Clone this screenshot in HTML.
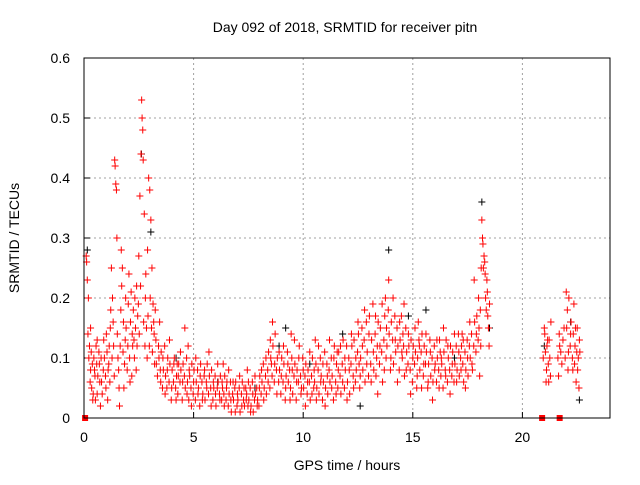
<!DOCTYPE html>
<html><head><meta charset="utf-8"><style>
body{margin:0;background:#fff;font-family:"Liberation Sans",sans-serif}
svg text{font-family:"Liberation Sans",sans-serif;font-size:14px;fill:#000}
</style></head><body>
<svg id="c" width="640" height="480">
<text x="345" y="32" text-anchor="middle">Day 092 of 2018, SRMTID for receiver pitn</text>
<text x="347" y="470" text-anchor="middle">GPS time / hours</text>
<text transform="translate(19,238) rotate(-90)" text-anchor="middle">SRMTID / TECUs</text>
<g id="grid"></g>
<g id="ticks"></g>
<g id="black"></g>
<g id="red"></g>
<rect x="84" y="58" width="526" height="360" fill="none" stroke="#000" stroke-width="1"/>
</svg>
<script>
const xTicks=[0,5,10,15,20];
const yTicks=[0,0.1,0.2,0.3,0.4,0.5,0.6];
const yLabels=["0","0.1","0.2","0.3","0.4","0.5","0.6"];
const zeroPoints=[0.05,20.9,21.7];
const redPts="0.1,0.27 0.12,0.26 0.15,0.23 0.2,0.2 0.18,0.14 0.25,0.12 0.3,0.08 0.35,0.05 0.4,0.03 0.45,0.1 0.5,0.07 0.55,0.12 0.6,0.04 0.7,0.09 0.75,0.02 0.8,0.06 0.9,0.13 1.0,0.05 1.05,0.11 1.1,0.08 1.2,0.15 1.25,0.25 1.3,0.2 1.35,0.12 1.4,0.43 1.42,0.42 1.45,0.39 1.48,0.38 1.5,0.3 1.55,0.1 1.6,0.05 1.62,0.02 1.7,0.28 1.75,0.25 1.8,0.16 1.85,0.09 1.9,0.2 2.0,0.12 2.05,0.24 2.1,0.06 2.2,0.14 2.25,0.18 2.3,0.1 2.4,0.22 2.45,0.17 2.5,0.27 2.55,0.37 2.6,0.44 2.63,0.53 2.65,0.5 2.68,0.48 2.7,0.43 2.75,0.34 2.8,0.2 2.85,0.15 2.9,0.28 2.95,0.4 3.0,0.38 3.05,0.33 3.1,0.25 3.15,0.19 3.2,0.14 3.25,0.18 3.3,0.09 3.4,0.12 3.5,0.06 3.6,0.1 3.7,0.04 3.8,0.08 3.9,0.13 4.0,0.05 4.1,0.09 4.2,0.03 4.3,0.07 4.4,0.11 4.5,0.06 4.6,0.15 4.7,0.04 4.8,0.08 4.9,0.02 5.0,0.06 5.1,0.1 5.2,0.04 5.3,0.07 5.4,0.03 5.5,0.08 5.6,0.05 5.7,0.11 5.8,0.02 5.9,0.06 6.0,0.04 6.1,0.09 6.2,0.03 6.3,0.06 6.4,0.02 6.5,0.05 6.6,0.08 6.7,0.03 6.8,0.06 6.9,0.01 7.0,0.04 7.1,0.07 7.2,0.02 7.3,0.05 7.4,0.03 7.5,0.06 7.6,0.01 7.7,0.04 7.8,0.07 7.9,0.02 8.0,0.05 8.1,0.08 8.2,0.03 8.3,0.1 8.4,0.06 8.5,0.13 8.6,0.16 8.7,0.09 8.8,0.04 8.9,0.11 9.0,0.07 9.1,0.12 9.2,0.05 9.3,0.09 9.4,0.03 9.5,0.08 9.6,0.13 9.7,0.06 9.8,0.1 9.9,0.04 10.0,0.08 10.1,0.02 10.2,0.06 10.3,0.11 10.4,0.04 10.5,0.08 10.6,0.03 10.7,0.12 10.8,0.06 10.9,0.09 11.0,0.02 11.1,0.07 11.2,0.13 11.3,0.05 11.4,0.1 11.5,0.04 11.6,0.08 11.7,0.12 11.8,0.06 11.9,0.1 12.0,0.03 12.1,0.08 12.2,0.14 12.3,0.05 12.4,0.1 12.5,0.16 12.6,0.07 12.7,0.12 12.8,0.18 12.9,0.09 13.0,0.14 13.1,0.06 13.2,0.11 13.3,0.17 13.4,0.04 13.5,0.12 13.6,0.19 13.7,0.08 13.8,0.15 13.9,0.23 14.0,0.1 14.1,0.2 14.2,0.13 14.3,0.06 14.4,0.16 14.5,0.11 14.6,0.19 14.7,0.08 14.8,0.14 14.9,0.04 15.0,0.1 15.1,0.15 15.2,0.07 15.3,0.12 15.4,0.05 15.5,0.09 15.6,0.14 15.7,0.06 15.8,0.11 15.9,0.03 16.0,0.08 16.1,0.13 16.2,0.05 16.3,0.1 16.4,0.15 16.5,0.07 16.6,0.12 16.7,0.04 16.8,0.09 16.9,0.14 17.0,0.06 17.1,0.11 17.2,0.08 17.3,0.13 17.4,0.05 17.5,0.1 17.6,0.16 17.7,0.09 17.8,0.23 17.9,0.14 18.0,0.2 18.1,0.12 18.15,0.33 18.2,0.29 18.25,0.27 18.3,0.24 18.35,0.18 18.4,0.21 18.45,0.15 18.5,0.19 21.0,0.15 21.05,0.11 21.1,0.08 21.15,0.13 21.2,0.06 21.25,0.1 21.3,0.16 21.65,0.07 21.7,0.12 21.8,0.09 21.9,0.15 22.0,0.21 22.05,0.18 22.1,0.11 22.2,0.14 22.3,0.08 22.35,0.19 22.4,0.12 22.45,0.06 22.5,0.15 22.55,0.1 22.6,0.13 0.3,0.15 0.6,0.13 1.15,0.12 3.45,0.16 4.25,0.09 4.75,0.12 6.35,0.09 7.45,0.08 8.55,0.09 9.45,0.14 10.55,0.13 11.55,0.11 12.55,0.09 13.35,0.1 13.75,0.2 14.55,0.14 15.25,0.16 16.25,0.11 17.25,0.14 18.05,0.07";
const redPts2="0.22,0.1 0.28,0.06 0.33,0.11 0.38,0.09 0.42,0.04 0.48,0.08 0.52,0.03 0.58,0.09 0.63,0.07 0.68,0.11 0.72,0.06 0.78,0.1 0.83,0.04 0.88,0.08 0.93,0.1 0.98,0.07 1.02,0.14 1.08,0.03 1.13,0.09 1.18,0.06 1.22,0.18 1.28,0.1 1.33,0.16 1.38,0.07 1.52,0.14 1.58,0.08 1.65,0.12 1.68,0.18 1.72,0.22 1.78,0.11 1.82,0.05 1.88,0.13 1.92,0.15 1.97,0.08 2.02,0.19 2.08,0.1 2.12,0.16 2.15,0.21 2.18,0.07 2.22,0.12 2.28,0.13 2.32,0.2 2.35,0.15 2.38,0.08 2.42,0.12 2.48,0.19 2.52,0.14 2.58,0.22 2.72,0.16 2.78,0.12 2.82,0.24 2.88,0.1 2.92,0.17 2.98,0.12 3.02,0.2 3.08,0.15 3.12,0.11 3.18,0.16 3.22,0.09 3.28,0.13 3.35,0.07 3.42,0.1 3.48,0.08 3.52,0.11 3.58,0.05 3.62,0.08 3.68,0.12 3.72,0.07 3.78,0.05 3.82,0.1 3.88,0.06 3.92,0.09 3.98,0.03 4.02,0.08 4.08,0.06 4.12,0.1 4.18,0.05 4.22,0.07 4.28,0.04 4.32,0.09 4.38,0.06 4.42,0.08 4.48,0.03 4.52,0.09 4.58,0.07 4.62,0.05 4.68,0.1 4.72,0.06 4.78,0.03 4.82,0.07 4.88,0.05 4.92,0.09 4.98,0.04 5.02,0.08 5.08,0.03 5.12,0.06 5.18,0.08 5.22,0.05 5.28,0.02 5.32,0.09 5.38,0.06 5.42,0.04 5.48,0.07 5.52,0.03 5.58,0.06 5.62,0.09 5.68,0.04 5.72,0.07 5.78,0.05 5.82,0.08 5.88,0.03 5.92,0.05 5.98,0.07 6.02,0.02 6.08,0.05 6.12,0.06 6.18,0.04 6.22,0.07 6.28,0.03 6.32,0.05 6.38,0.04 6.42,0.07 6.48,0.03 6.52,0.06 6.58,0.02 6.62,0.04 6.68,0.06 6.72,0.01 6.78,0.04 6.82,0.03 6.88,0.05 6.92,0.06 6.98,0.02 7.02,0.03 7.08,0.05 7.12,0.01 7.18,0.04 7.22,0.06 7.28,0.03 7.32,0.02 7.38,0.05 7.42,0.04 7.48,0.02 7.52,0.03 7.58,0.05 7.62,0.02 7.68,0.06 7.72,0.01 7.78,0.03 7.82,0.04 7.88,0.05 7.92,0.03 7.98,0.02 8.02,0.07 8.08,0.04 8.12,0.06 8.18,0.09 8.22,0.05 8.28,0.07 8.32,0.04 8.38,0.08 8.42,0.11 8.48,0.05 8.52,0.1 8.58,0.07 8.62,0.12 8.68,0.06 8.72,0.14 8.78,0.08 8.82,0.1 8.88,0.06 8.92,0.08 8.98,0.04 9.02,0.1 9.08,0.06 9.12,0.09 9.18,0.03 9.22,0.07 9.28,0.11 9.32,0.06 9.38,0.08 9.42,0.05 9.48,0.1 9.52,0.04 9.58,0.07 9.62,0.09 9.68,0.03 9.72,0.08 9.78,0.06 9.82,0.12 9.88,0.07 9.92,0.05 9.98,0.1 10.02,0.05 10.08,0.07 10.12,0.09 10.18,0.04 10.22,0.08 10.28,0.06 10.32,0.03 10.38,0.07 10.42,0.1 10.48,0.05 10.52,0.06 10.58,0.09 10.62,0.05 10.68,0.08 10.72,0.04 10.78,0.1 10.82,0.07 10.88,0.03 10.92,0.06 10.98,0.11 11.02,0.05 11.08,0.09 11.12,0.04 11.18,0.08 11.22,0.06 11.28,0.1 11.32,0.07 11.38,0.03 11.42,0.12 11.48,0.06 11.52,0.09 11.58,0.05 11.62,0.11 11.68,0.07 11.72,0.04 11.78,0.09 11.82,0.13 11.88,0.05 11.92,0.08 11.98,0.12 12.02,0.06 12.08,0.1 12.12,0.04 12.18,0.09 12.22,0.12 12.28,0.07 12.32,0.13 12.38,0.06 12.42,0.08 12.48,0.11 12.52,0.14 12.58,0.05 12.62,0.1 12.68,0.15 12.72,0.08 12.78,0.13 12.82,0.06 12.88,0.16 12.92,0.11 12.98,0.07 13.02,0.17 13.08,0.09 13.12,0.13 13.18,0.19 13.22,0.08 13.28,0.14 13.32,0.07 13.38,0.12 13.42,0.16 13.48,0.09 13.52,0.15 13.58,0.11 13.62,0.06 13.68,0.13 13.72,0.17 13.78,0.1 13.82,0.12 13.88,0.18 13.92,0.14 13.98,0.08 14.02,0.16 14.08,0.13 14.12,0.09 14.18,0.17 14.22,0.11 14.28,0.15 14.32,0.12 14.38,0.08 14.42,0.13 14.48,0.17 14.52,0.1 14.58,0.12 14.62,0.07 14.68,0.15 14.72,0.11 14.78,0.09 14.82,0.12 14.88,0.08 14.92,0.13 14.98,0.06 15.02,0.12 15.08,0.09 15.12,0.11 15.18,0.05 15.22,0.1 15.28,0.13 15.32,0.08 15.38,0.11 15.42,0.14 15.48,0.07 15.52,0.12 15.58,0.09 15.62,0.11 15.68,0.05 15.72,0.09 15.78,0.13 15.82,0.07 15.88,0.1 15.92,0.06 15.98,0.12 16.02,0.09 16.08,0.06 16.12,0.1 16.18,0.08 16.22,0.13 16.28,0.07 16.32,0.09 16.38,0.05 16.42,0.11 16.48,0.08 16.52,0.13 16.58,0.06 16.62,0.1 16.68,0.08 16.72,0.12 16.78,0.07 16.82,0.11 16.88,0.06 16.92,0.09 16.98,0.12 17.02,0.08 17.08,0.14 17.12,0.07 17.18,0.1 17.22,0.12 17.28,0.09 17.32,0.06 17.38,0.11 17.42,0.08 17.48,0.13 17.52,0.07 17.58,0.12 17.62,0.1 17.68,0.14 17.72,0.08 17.78,0.12 17.82,0.16 17.88,0.11 17.92,0.17 17.98,0.13 18.02,0.15 18.08,0.18 18.12,0.25 18.18,0.3 18.22,0.25 18.28,0.26 18.32,0.2 18.38,0.23 18.42,0.17 18.48,0.12 20.95,0.1 21.02,0.14 21.08,0.06 21.12,0.12 21.18,0.09 21.22,0.13 21.28,0.07 21.62,0.1 21.68,0.14 21.75,0.11 21.85,0.13 21.95,0.1 22.02,0.15 22.08,0.08 22.12,0.2 22.18,0.12 22.22,0.16 22.28,0.1 22.32,0.14 22.38,0.09 22.42,0.15 22.48,0.11 22.52,0.08 22.58,0.05 22.62,0.11";
const blackPts="0.15,0.28 2.62,0.44 3.05,0.31 4.2,0.1 6.1,0.06 7.8,0.05 8.9,0.12 10.3,0.09 11.8,0.14 13.9,0.28 14.8,0.17 15.6,0.18 16.9,0.1 18.15,0.36 18.5,0.15 21.0,0.12 22.2,0.16 22.6,0.03 12.6,0.02 9.2,0.15";
const parse=s=>s.split(" ").map(t=>t.split(",").map(Number));
const red=parse(redPts).concat(parse(redPts2));
const black=parse(blackPts);
const X=h=>84+h*21.92, Y=v=>418-v*600;
const NS="http://www.w3.org/2000/svg";
function mk(t,a,p){const e=document.createElementNS(NS,t);for(const k in a)e.setAttribute(k,a[k]);p.appendChild(e);return e;}
const g=document.getElementById('grid'),tk=document.getElementById('ticks');
xTicks.forEach(t=>{const x=X(t);
 if(t>0){const l=mk('line',{x1:x,x2:x,y1:58,y2:418,stroke:'#a0a0a0','stroke-dasharray':'2,3'},g);
 
 }
 mk('line',{x1:x,x2:x,y1:418,y2:412,stroke:'#000'},tk);
 const tx=mk('text',{x:x,y:442,'text-anchor':'middle'},tk);tx.textContent=t;
 
 });
yTicks.forEach((t,i)=>{const y=Y(t);
 if(t>0&&t<0.6){const l=mk('line',{x1:84,x2:610,y1:y,y2:y,stroke:'#a0a0a0','stroke-dasharray':'2,3'},g);
 
 }
 mk('line',{x1:84,x2:90,y1:y,y2:y,stroke:'#000'},tk);
 const tx=mk('text',{x:70,y:y+5,'text-anchor':'end'},tk);tx.textContent=yLabels[i];
 
 });
function plus(p,c,par){const x=X(p[0]),y=Y(p[1]);
 const e=mk('path',{d:`M${x-3.5},${y}h7M${x},${y-3.5}v7`,stroke:c,'stroke-width':1,fill:'none'},par);
 
 }
const bg=document.getElementById('black'),rg=document.getElementById('red');
black.forEach(p=>plus(p,'#000',bg));
red.forEach(p=>plus(p,'#f00',rg));
zeroPoints.forEach(h=>{const r=mk('rect',{x:X(h)-3,y:415,width:6,height:6,fill:'#f00'},rg);
 
 });
</script>
</body></html>
